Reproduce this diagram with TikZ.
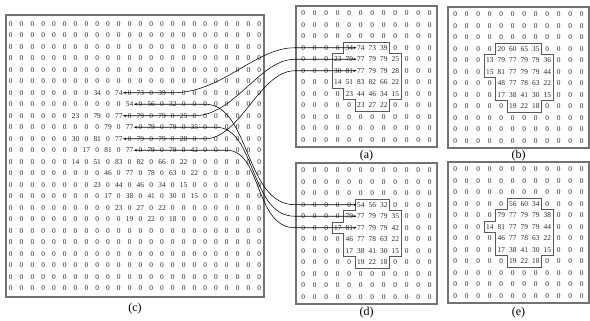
\documentclass[tikz,border=0pt]{standalone}
\usepackage{fontspec}
\setmainfont{Liberation Serif}
\usetikzlibrary{arrows.meta}
\tikzset{
  cell/.style={font=\fontsize{7.4}{8}\selectfont, inner sep=0.4pt, text=black!85},
  panel/.style={draw=black!55, line width=1.1pt},
  outline/.style={draw=black!65, line width=0.7pt},
  conn/.style={draw=black, line width=0.55pt, {Stealth[length=3pt,width=2.4pt]}-{Stealth[length=3pt,width=2.4pt]}},
  caption/.style={font=\fontsize{12}{14}\selectfont, inner sep=0pt},
}
\newcommand\setvals[3]{\foreach \cc/\vv in {#3}{\expandafter\xdef\csname v@#1@#2@\cc\endcsname{\vv}}}
% name, x0, y0, ncols, nrows, dx, dy
\newcommand\drawgrid[7]{\foreach \r in {1,...,#5}{\foreach \c in {1,...,#4}{%
  \node[cell] (#1-\r-\c) at ({#2+(\c-1)*#6},{#3+(\r-1)*#7}) {\ifcsname v@#1@\r @\c\endcsname\csname v@#1@\r @\c\endcsname\else 0\fi};}}}
% values of (c)
\setvals{c}{7}{9/34,11/74,13/73,15/39}
\setvals{c}{8}{12/54,14/56,16/32}
\setvals{c}{9}{7/23,9/79,11/77,13/79,15/79,17/25}
\setvals{c}{10}{10/79,12/77,14/79,16/79,18/35}
\setvals{c}{11}{7/30,9/81,11/77,13/79,15/79,17/28}
\setvals{c}{12}{8/17,10/81,12/77,14/79,16/79,18/42}
\setvals{c}{13}{7/14,9/51,11/83,13/82,15/66,17/22}
\setvals{c}{14}{10/46,12/77,14/78,16/63,18/22}
\setvals{c}{15}{9/23,11/44,13/46,15/34,17/15}
\setvals{c}{16}{10/17,12/38,14/41,16/30,18/15}
\setvals{c}{17}{11/23,13/27,15/22}
\setvals{c}{18}{12/19,14/22,16/18}
% (a)
\setvals{a}{4}{5/34,6/74,7/73,8/39}
\setvals{a}{5}{4/23,5/79,6/77,7/79,8/79,9/25}
\setvals{a}{6}{4/30,5/81,6/77,7/79,8/79,9/28}
\setvals{a}{7}{4/14,5/51,6/83,7/82,8/66,9/22}
\setvals{a}{8}{5/23,6/44,7/46,8/34,9/15}
\setvals{a}{9}{6/23,7/27,8/22}
% (b)
\setvals{b}{4}{5/20,6/60,7/65,8/35}
\setvals{b}{5}{4/13,5/79,6/77,7/79,8/79,9/36}
\setvals{b}{6}{4/15,5/81,6/77,7/79,8/79,9/44}
\setvals{b}{7}{5/48,6/77,7/78,8/63,9/22}
\setvals{b}{8}{5/17,6/38,7/41,8/30,9/15}
\setvals{b}{9}{6/19,7/22,8/18}
% (d)
\setvals{d}{4}{6/54,7/56,8/32}
\setvals{d}{5}{5/79,6/77,7/79,8/79,9/35}
\setvals{d}{6}{4/17,5/81,6/77,7/79,8/79,9/42}
\setvals{d}{7}{5/46,6/77,7/78,8/63,9/22}
\setvals{d}{8}{5/17,6/38,7/41,8/30,9/15}
\setvals{d}{9}{6/19,7/22,8/18}
% (e)
\setvals{e}{4}{6/56,7/60,8/34}
\setvals{e}{5}{5/79,6/77,7/79,8/79,9/38}
\setvals{e}{6}{4/14,5/81,6/77,7/79,8/79,9/44}
\setvals{e}{7}{5/46,6/77,7/78,8/63,9/22}
\setvals{e}{8}{5/17,6/38,7/41,8/30,9/15}
\setvals{e}{9}{6/19,7/22,8/18}
\begin{document}
\begin{tikzpicture}[x=1pt,y=-1pt]
\useasboundingbox (0,0) rectangle (590,321);
% frames
\draw[panel] (6,15) rectangle (264,297);
\draw[panel] (296,6) rectangle (437,147);
\draw[panel] (448,7) rectangle (589,148);
\draw[panel] (296,163) rectangle (437,304);
\draw[panel] (448,162) rectangle (589,303);
% grids
\drawgrid{c}{10.8}{23.75}{24}{24}{10.8}{11.5}
\drawgrid{a}{303.25}{13.25}{12}{12}{11.5}{11.5}
\drawgrid{b}{455.25}{14.25}{12}{12}{11.5}{11.5}
\drawgrid{d}{303.25}{170.25}{12}{12}{11.5}{11.5}
\drawgrid{e}{455.25}{169.25}{12}{12}{11.5}{11.5}
% outlines
\begin{scope}[shift={(297.5,7.5)},x=11.5pt,y=-11.5pt]
\draw[outline] (4,3) -- (8,3) -- (8,4) -- (9,4) -- (9,8) -- (8,8) -- (8,9) -- (5,9) -- (5,8) -- (4,8) -- (4,7) -- (3,7) -- (3,4) -- (4,4) -- cycle;
\end{scope}
\begin{scope}[shift={(449.5,8.5)},x=11.5pt,y=-11.5pt]
\draw[outline] (4,3) -- (8,3) -- (8,4) -- (9,4) -- (9,8) -- (8,8) -- (8,9) -- (5,9) -- (5,8) -- (4,8) -- (4,6) -- (3,6) -- (3,4) -- (4,4) -- cycle;
\end{scope}
\begin{scope}[shift={(297.5,164.5)},x=11.5pt,y=-11.5pt]
\draw[outline] (5,3) -- (8,3) -- (8,4) -- (9,4) -- (9,8) -- (8,8) -- (8,9) -- (5,9) -- (5,8) -- (4,8) -- (4,6) -- (3,6) -- (3,5) -- (4,5) -- (4,4) -- (5,4) -- cycle;
\end{scope}
\begin{scope}[shift={(449.5,163.5)},x=11.5pt,y=-11.5pt]
\draw[outline] (5,3) -- (8,3) -- (8,4) -- (9,4) -- (9,8) -- (8,8) -- (8,9) -- (5,9) -- (5,8) -- (4,8) -- (4,6) -- (3,6) -- (3,5) -- (4,5) -- (4,4) -- (5,4) -- cycle;
\end{scope}
% captions
\node[caption] (capa) at (366.5,155.5) {(a)};
\node[caption] (capb) at (518.5,155.5) {(b)};
\node[caption] (capc) at (135,309) {(c)};
\node[caption] (capd) at (366.5,313) {(d)};
\node[caption] (cape) at (518.5,313) {(e)};
% connectors to (a)
\draw[conn] (c-7-11.east) -- (c-7-16.center) .. controls +(50,0) and +(-40,0) .. ([xshift=-6pt]a-4-1.west) -- (a-4-6.west);
\draw[conn] (c-9-11.east) -- (c-9-18.center) .. controls +(40,0) and +(-35,0) .. ([xshift=-6pt]a-5-1.west) -- (a-5-6.west);
\draw[conn] (c-11-11.east) -- (c-11-19.center) .. controls +(35,0) and +(-35,0) .. ([xshift=-6pt]a-6-1.west) -- (a-6-6.west);
% connectors to (d)
\draw[conn] (c-8-12.east) -- (c-8-19.center) .. controls +(45,0) and +(-50,0) .. ([xshift=-6pt]d-4-1.west) -- (d-4-6.west);
\draw[conn] (c-10-12.east) -- (c-10-20.center) .. controls +(40,0) and +(-45,0) .. ([xshift=-6pt]d-5-1.west) -- (d-5-6.west);
\draw[conn] (c-12-12.east) -- (c-12-21.center) .. controls +(35,0) and +(-40,0) .. ([xshift=-6pt]d-6-1.west) -- (d-6-6.west);
\end{tikzpicture}
\end{document}
